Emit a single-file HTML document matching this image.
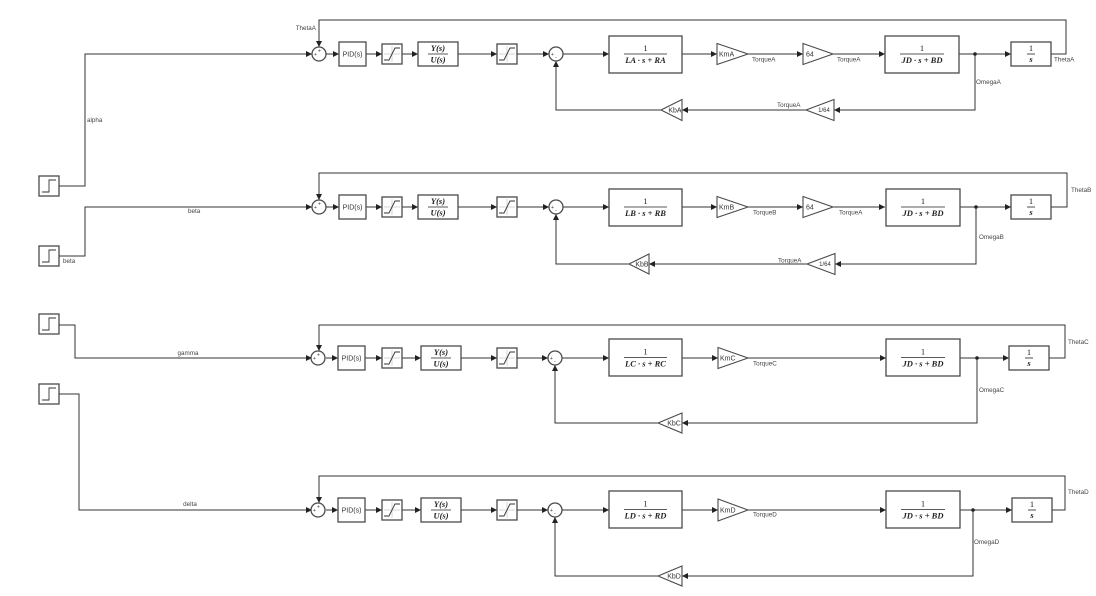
<!DOCTYPE html>
<html>
<head>
<meta charset="utf-8">
<style>
html,body{margin:0;padding:0;background:#fff;}
svg{display:block;}
.ln{stroke:#333;stroke-width:1;fill:none;}
.blk{fill:#fff;stroke:#4a4a4a;stroke-width:1.3;}
.tri{fill:#fff;stroke:#4a4a4a;stroke-width:1.1;}
.lab{font-family:"Liberation Sans",sans-serif;font-size:6.3px;fill:#444;}
.blab{font-family:"Liberation Sans",sans-serif;font-size:7px;fill:#333;}
.sm{font-size:6px;}
.mth{font-family:"Liberation Serif",serif;font-size:8.5px;font-style:italic;font-weight:bold;fill:#222;}
.num{font-family:"Liberation Serif",serif;font-size:8.5px;fill:#222;}
.fl{stroke:#222;stroke-width:0.8;}
.ax{stroke:#bbb;stroke-width:0.6;}
.sat{stroke:#333;stroke-width:0.9;fill:none;}
.sg{font-family:"Liberation Sans",sans-serif;font-size:5px;fill:#333;}
</style>
</head>
<body>
<svg width="1096" height="596" viewBox="0 0 1096 596" xmlns="http://www.w3.org/2000/svg">
<defs>
<marker id="a" markerUnits="userSpaceOnUse" markerWidth="6" markerHeight="6" refX="6" refY="3" orient="auto">
<path d="M0,0 L6,3 L0,6 z" fill="#222"/>
</marker>
</defs>
<rect width="1096" height="596" fill="#fff"/>

<!-- ===== Step sources ===== -->
<g>
<rect class="blk" x="39" y="176" width="20" height="20"/>
<path class="sat" d="M42,192 L49,192 L49,180 L56,180"/>
<rect class="blk" x="39" y="246" width="20" height="20"/>
<path class="sat" d="M42,262 L49,262 L49,250 L56,250"/>
<rect class="blk" x="39" y="314" width="20" height="20"/>
<path class="sat" d="M42,330 L49,330 L49,318 L56,318"/>
<rect class="blk" x="39" y="384" width="20" height="20"/>
<path class="sat" d="M42,400 L49,400 L49,388 L56,388"/>

<polyline class="ln" points="59,186 85,186 85,54 312,54" marker-end="url(#a)"/>
<polyline class="ln" points="59,256 85,256 85,207 312,207" marker-end="url(#a)"/>
<polyline class="ln" points="59,325 75,325 75,358 312,358" marker-end="url(#a)"/>
<polyline class="ln" points="59,394 79,394 79,510 312,510" marker-end="url(#a)"/>

<text class="lab" x="87" y="122">alpha</text>
<text class="lab" x="188" y="213">beta</text>
<text class="lab" x="63" y="263">beta</text>
<text class="lab" x="188" y="355" text-anchor="middle">gamma</text>
<text class="lab" x="190" y="506" text-anchor="middle">delta</text>
</g>

<!-- ===== Row A ===== -->
<g transform="translate(0,54)">
<line class="ln" x1="326" y1="0" x2="339" y2="0" marker-end="url(#a)"/>
<line class="ln" x1="366" y1="0" x2="382" y2="0" marker-end="url(#a)"/>
<line class="ln" x1="402" y1="0" x2="418" y2="0" marker-end="url(#a)"/>
<line class="ln" x1="458" y1="0" x2="497" y2="0" marker-end="url(#a)"/>
<line class="ln" x1="517" y1="0" x2="549" y2="0" marker-end="url(#a)"/>
<line class="ln" x1="563" y1="0" x2="609" y2="0" marker-end="url(#a)"/>
<line class="ln" x1="682" y1="0" x2="717" y2="0" marker-end="url(#a)"/>
<line class="ln" x1="748" y1="0" x2="803" y2="0" marker-end="url(#a)"/>
<line class="ln" x1="833" y1="0" x2="885" y2="0" marker-end="url(#a)"/>
<line class="ln" x1="959" y1="0" x2="1011" y2="0" marker-end="url(#a)"/>
<polyline class="ln" points="1051,0 1066,0 1066,-34 319,-34 319,-7" marker-end="url(#a)"/>
<polyline class="ln" points="975,0 975,56 834,56" marker-end="url(#a)"/>
<line class="ln" x1="806" y1="56" x2="682" y2="56" marker-end="url(#a)"/>
<polyline class="ln" points="661,56 556,56 556,7" marker-end="url(#a)"/>
<circle cx="975" cy="0" r="1.8" fill="#222"/>

<circle class="blk" cx="319" cy="0" r="7"/>
<text class="sg" x="314" y="2">+</text><text class="sg" x="318" y="-1.5">+</text>
<rect class="blk" x="339" y="-12" width="27" height="24"/>
<text class="blab" x="352.5" y="2.5" text-anchor="middle">PID(s)</text>
<rect class="blk" x="382" y="-10" width="20" height="20"/>
<line class="ax" x1="392" y1="-8" x2="392" y2="8"/><line class="ax" x1="384" y1="0" x2="400" y2="0"/>
<path class="sat" d="M384,6 L389,6 L395,-6 L400,-6"/>
<rect class="blk" x="418" y="-12" width="40" height="24"/>
<text class="mth" x="438" y="-3" text-anchor="middle">Y(s)</text>
<line class="fl" x1="428" y1="0" x2="448" y2="0"/>
<text class="mth" x="438" y="8.5" text-anchor="middle">U(s)</text>
<rect class="blk" x="497" y="-10" width="20" height="20"/>
<line class="ax" x1="507" y1="-8" x2="507" y2="8"/><line class="ax" x1="499" y1="0" x2="515" y2="0"/>
<path class="sat" d="M499,6 L504,6 L510,-6 L515,-6"/>
<circle class="blk" cx="556" cy="0" r="7"/>
<text class="sg" x="551" y="2">+</text><text class="sg" x="555" y="5">-</text>
<rect class="blk" x="609" y="-18" width="73" height="37"/>
<text class="num" x="645.5" y="-3" text-anchor="middle">1</text>
<line class="fl" x1="624" y1="0" x2="667" y2="0"/>
<text class="mth" x="645.5" y="9" text-anchor="middle">LA · s + RA</text>
<polygon class="tri" points="717,-10.5 748,0 717,10.5"/>
<text class="blab" x="719" y="2.5">KmA</text>
<polygon class="tri" points="803,-10.5 833,0 803,10.5"/>
<text class="blab" x="806" y="2.5">64</text>
<rect class="blk" x="885" y="-18" width="74" height="37"/>
<text class="num" x="922" y="-3" text-anchor="middle">1</text>
<line class="fl" x1="900" y1="0" x2="944" y2="0"/>
<text class="mth" x="922" y="9" text-anchor="middle">JD · s + BD</text>
<rect class="blk" x="1011" y="-12" width="40" height="24"/>
<text class="num" x="1031" y="-3" text-anchor="middle">1</text>
<line class="fl" x1="1027" y1="0" x2="1035" y2="0"/>
<text class="mth" x="1031" y="8" text-anchor="middle">s</text>
<polygon class="tri" points="834,45.5 806,56 834,66.5"/>
<text class="blab sm" x="824" y="58.2" text-anchor="middle">1/64</text>
<polygon class="tri" points="682,45.5 661,56 682,66.5"/>
<text class="blab" x="675" y="58.5" text-anchor="middle">KbA</text>

<text class="lab" x="316" y="-24" text-anchor="end">ThetaA</text>
<text class="lab" x="752" y="7.5">TorqueA</text>
<text class="lab" x="837" y="7.5">TorqueA</text>
<text class="lab" x="1054" y="7.5">ThetaA</text>
<text class="lab" x="976" y="30">OmegaA</text>
<text class="lab" x="777" y="53">TorqueA</text>
</g>

<!-- ===== Row B ===== -->
<g transform="translate(0,207)">
<line class="ln" x1="326" y1="0" x2="339" y2="0" marker-end="url(#a)"/>
<line class="ln" x1="366" y1="0" x2="382" y2="0" marker-end="url(#a)"/>
<line class="ln" x1="402" y1="0" x2="418" y2="0" marker-end="url(#a)"/>
<line class="ln" x1="458" y1="0" x2="497" y2="0" marker-end="url(#a)"/>
<line class="ln" x1="517" y1="0" x2="549" y2="0" marker-end="url(#a)"/>
<line class="ln" x1="563" y1="0" x2="609" y2="0" marker-end="url(#a)"/>
<line class="ln" x1="682" y1="0" x2="717" y2="0" marker-end="url(#a)"/>
<line class="ln" x1="748" y1="0" x2="803" y2="0" marker-end="url(#a)"/>
<line class="ln" x1="833" y1="0" x2="885" y2="0" marker-end="url(#a)"/>
<line class="ln" x1="959" y1="0" x2="1011" y2="0" marker-end="url(#a)"/>
<polyline class="ln" points="1051,0 1067,0 1067,-34 319,-34 319,-7" marker-end="url(#a)"/>
<polyline class="ln" points="976,0 976,57 835,57" marker-end="url(#a)"/>
<line class="ln" x1="807" y1="57" x2="649" y2="57" marker-end="url(#a)"/>
<polyline class="ln" points="629,57 556,57 556,7" marker-end="url(#a)"/>
<circle cx="976" cy="0" r="1.8" fill="#222"/>

<circle class="blk" cx="319" cy="0" r="7"/>
<text class="sg" x="314" y="2">+</text><text class="sg" x="318" y="-1.5">+</text>
<rect class="blk" x="339" y="-12" width="27" height="24"/>
<text class="blab" x="352.5" y="2.5" text-anchor="middle">PID(s)</text>
<rect class="blk" x="382" y="-10" width="20" height="20"/>
<line class="ax" x1="392" y1="-8" x2="392" y2="8"/><line class="ax" x1="384" y1="0" x2="400" y2="0"/>
<path class="sat" d="M384,6 L389,6 L395,-6 L400,-6"/>
<rect class="blk" x="418" y="-12" width="40" height="24"/>
<text class="mth" x="438" y="-3" text-anchor="middle">Y(s)</text>
<line class="fl" x1="428" y1="0" x2="448" y2="0"/>
<text class="mth" x="438" y="8.5" text-anchor="middle">U(s)</text>
<rect class="blk" x="497" y="-10" width="20" height="20"/>
<line class="ax" x1="507" y1="-8" x2="507" y2="8"/><line class="ax" x1="499" y1="0" x2="515" y2="0"/>
<path class="sat" d="M499,6 L504,6 L510,-6 L515,-6"/>
<circle class="blk" cx="556" cy="0" r="7"/>
<text class="sg" x="551" y="2">+</text><text class="sg" x="555" y="5">-</text>
<rect class="blk" x="609" y="-18" width="73" height="37"/>
<text class="num" x="645.5" y="-3" text-anchor="middle">1</text>
<line class="fl" x1="624" y1="0" x2="667" y2="0"/>
<text class="mth" x="645.5" y="9" text-anchor="middle">LB · s + RB</text>
<polygon class="tri" points="717,-10.5 748,0 717,10.5"/>
<text class="blab" x="719" y="2.5">KmB</text>
<polygon class="tri" points="803,-10.5 833,0 803,10.5"/>
<text class="blab" x="806" y="2.5">64</text>
<rect class="blk" x="886" y="-18" width="74" height="37"/>
<text class="num" x="923" y="-3" text-anchor="middle">1</text>
<line class="fl" x1="901" y1="0" x2="945" y2="0"/>
<text class="mth" x="923" y="9" text-anchor="middle">JD · s + BD</text>
<rect class="blk" x="1011" y="-12" width="40" height="24"/>
<text class="num" x="1031" y="-3" text-anchor="middle">1</text>
<line class="fl" x1="1027" y1="0" x2="1035" y2="0"/>
<text class="mth" x="1031" y="8" text-anchor="middle">s</text>
<polygon class="tri" points="835,46.5 807,57 835,67.5"/>
<text class="blab sm" x="825" y="59.2" text-anchor="middle">1/64</text>
<polygon class="tri" points="649,47 629,57 649,67"/>
<text class="blab" x="642" y="59.5" text-anchor="middle">KbB</text>

<text class="lab" x="753" y="7.5">TorqueB</text>
<text class="lab" x="839" y="7.5">TorqueA</text>
<text class="lab" x="1071" y="-15">ThetaB</text>
<text class="lab" x="979" y="32">OmegaB</text>
<text class="lab" x="778" y="55.5">TorqueA</text>
</g>

<!-- ===== Row C ===== -->
<g transform="translate(0,358)">
<line class="ln" x1="326" y1="0" x2="338" y2="0" marker-end="url(#a)"/>
<line class="ln" x1="365" y1="0" x2="382" y2="0" marker-end="url(#a)"/>
<line class="ln" x1="402" y1="0" x2="421" y2="0" marker-end="url(#a)"/>
<line class="ln" x1="461" y1="0" x2="497" y2="0" marker-end="url(#a)"/>
<line class="ln" x1="517" y1="0" x2="548" y2="0" marker-end="url(#a)"/>
<line class="ln" x1="562" y1="0" x2="609" y2="0" marker-end="url(#a)"/>
<line class="ln" x1="682" y1="0" x2="718" y2="0" marker-end="url(#a)"/>
<line class="ln" x1="748" y1="0" x2="886" y2="0" marker-end="url(#a)"/>
<line class="ln" x1="960" y1="0" x2="1009" y2="0" marker-end="url(#a)"/>
<polyline class="ln" points="1049,0 1065,0 1065,-33 319,-33 319,-7" marker-end="url(#a)"/>
<polyline class="ln" points="977,0 977,65 682,65" marker-end="url(#a)"/>
<polyline class="ln" points="658,65 555,65 555,7" marker-end="url(#a)"/>
<circle cx="977" cy="0" r="1.8" fill="#222"/>

<circle class="blk" cx="318" cy="0" r="7"/>
<text class="sg" x="313" y="2">+</text><text class="sg" x="317" y="-1.5">+</text>
<rect class="blk" x="338" y="-12" width="27" height="24"/>
<text class="blab" x="351.5" y="2.5" text-anchor="middle">PID(s)</text>
<rect class="blk" x="382" y="-10" width="20" height="20"/>
<line class="ax" x1="392" y1="-8" x2="392" y2="8"/><line class="ax" x1="384" y1="0" x2="400" y2="0"/>
<path class="sat" d="M384,6 L389,6 L395,-6 L400,-6"/>
<rect class="blk" x="421" y="-12" width="40" height="24"/>
<text class="mth" x="441" y="-3" text-anchor="middle">Y(s)</text>
<line class="fl" x1="431" y1="0" x2="451" y2="0"/>
<text class="mth" x="441" y="8.5" text-anchor="middle">U(s)</text>
<rect class="blk" x="497" y="-10" width="20" height="20"/>
<line class="ax" x1="507" y1="-8" x2="507" y2="8"/><line class="ax" x1="499" y1="0" x2="515" y2="0"/>
<path class="sat" d="M499,6 L504,6 L510,-6 L515,-6"/>
<circle class="blk" cx="555" cy="0" r="7"/>
<text class="sg" x="550" y="2">+</text><text class="sg" x="554" y="5">-</text>
<rect class="blk" x="609" y="-19" width="73" height="37"/>
<text class="num" x="645.5" y="-3.5" text-anchor="middle">1</text>
<line class="fl" x1="624" y1="-0.5" x2="667" y2="-0.5"/>
<text class="mth" x="645.5" y="8.5" text-anchor="middle">LC · s + RC</text>
<polygon class="tri" points="718,-10.5 748,0 718,10.5"/>
<text class="blab" x="720" y="2.5">KmC</text>
<rect class="blk" x="886" y="-19" width="74" height="37"/>
<text class="num" x="923" y="-3.5" text-anchor="middle">1</text>
<line class="fl" x1="901" y1="-0.5" x2="945" y2="-0.5"/>
<text class="mth" x="923" y="8.5" text-anchor="middle">JD · s + BD</text>
<rect class="blk" x="1009" y="-12" width="40" height="24"/>
<text class="num" x="1029" y="-3" text-anchor="middle">1</text>
<line class="fl" x1="1025" y1="0" x2="1033" y2="0"/>
<text class="mth" x="1029" y="8" text-anchor="middle">s</text>
<polygon class="tri" points="682,55 658,65 682,75"/>
<text class="blab" x="674" y="67.5" text-anchor="middle">KbC</text>

<text class="lab" x="753" y="7.5">TorqueC</text>
<text class="lab" x="1068" y="-14">ThetaC</text>
<text class="lab" x="979" y="34">OmegaC</text>
</g>

<!-- ===== Row D ===== -->
<g transform="translate(0,510)">
<line class="ln" x1="326" y1="0" x2="338" y2="0" marker-end="url(#a)"/>
<line class="ln" x1="365" y1="0" x2="382" y2="0" marker-end="url(#a)"/>
<line class="ln" x1="402" y1="0" x2="421" y2="0" marker-end="url(#a)"/>
<line class="ln" x1="461" y1="0" x2="497" y2="0" marker-end="url(#a)"/>
<line class="ln" x1="517" y1="0" x2="548" y2="0" marker-end="url(#a)"/>
<line class="ln" x1="562" y1="0" x2="609" y2="0" marker-end="url(#a)"/>
<line class="ln" x1="682" y1="0" x2="718" y2="0" marker-end="url(#a)"/>
<line class="ln" x1="748" y1="0" x2="886" y2="0" marker-end="url(#a)"/>
<line class="ln" x1="960" y1="0" x2="1012" y2="0" marker-end="url(#a)"/>
<polyline class="ln" points="1052,0 1065,0 1065,-34 319,-34 319,-7" marker-end="url(#a)"/>
<polyline class="ln" points="973,0 973,66 682,66" marker-end="url(#a)"/>
<polyline class="ln" points="658,66 555,66 555,7" marker-end="url(#a)"/>
<circle cx="973" cy="0" r="1.8" fill="#222"/>

<circle class="blk" cx="318" cy="0" r="7"/>
<text class="sg" x="313" y="2">+</text><text class="sg" x="317" y="-1.5">+</text>
<rect class="blk" x="338" y="-12" width="27" height="24"/>
<text class="blab" x="351.5" y="2.5" text-anchor="middle">PID(s)</text>
<rect class="blk" x="382" y="-10" width="20" height="20"/>
<line class="ax" x1="392" y1="-8" x2="392" y2="8"/><line class="ax" x1="384" y1="0" x2="400" y2="0"/>
<path class="sat" d="M384,6 L389,6 L395,-6 L400,-6"/>
<rect class="blk" x="421" y="-12" width="40" height="24"/>
<text class="mth" x="441" y="-3" text-anchor="middle">Y(s)</text>
<line class="fl" x1="431" y1="0" x2="451" y2="0"/>
<text class="mth" x="441" y="8.5" text-anchor="middle">U(s)</text>
<rect class="blk" x="497" y="-10" width="20" height="20"/>
<line class="ax" x1="507" y1="-8" x2="507" y2="8"/><line class="ax" x1="499" y1="0" x2="515" y2="0"/>
<path class="sat" d="M499,6 L504,6 L510,-6 L515,-6"/>
<circle class="blk" cx="555" cy="0" r="7"/>
<text class="sg" x="550" y="2">+</text><text class="sg" x="554" y="5">-</text>
<rect class="blk" x="609" y="-19" width="73" height="37"/>
<text class="num" x="645.5" y="-3.5" text-anchor="middle">1</text>
<line class="fl" x1="624" y1="-0.5" x2="667" y2="-0.5"/>
<text class="mth" x="645.5" y="8.5" text-anchor="middle">LD · s + RD</text>
<polygon class="tri" points="718,-11 748,0 718,11"/>
<text class="blab" x="720" y="2.5">KmD</text>
<rect class="blk" x="886" y="-19" width="74" height="37"/>
<text class="num" x="923" y="-3.5" text-anchor="middle">1</text>
<line class="fl" x1="901" y1="-0.5" x2="945" y2="-0.5"/>
<text class="mth" x="923" y="8.5" text-anchor="middle">JD · s + BD</text>
<rect class="blk" x="1012" y="-12" width="40" height="24"/>
<text class="num" x="1032" y="-3" text-anchor="middle">1</text>
<line class="fl" x1="1028" y1="0" x2="1036" y2="0"/>
<text class="mth" x="1032" y="8" text-anchor="middle">s</text>
<polygon class="tri" points="682,56 658,66 682,76"/>
<text class="blab" x="674" y="68.5" text-anchor="middle">KbD</text>

<text class="lab" x="753" y="6.5">TorqueD</text>
<text class="lab" x="1068" y="-16">ThetaD</text>
<text class="lab" x="974" y="34">OmegaD</text>
</g>
</svg>
</body>
</html>
